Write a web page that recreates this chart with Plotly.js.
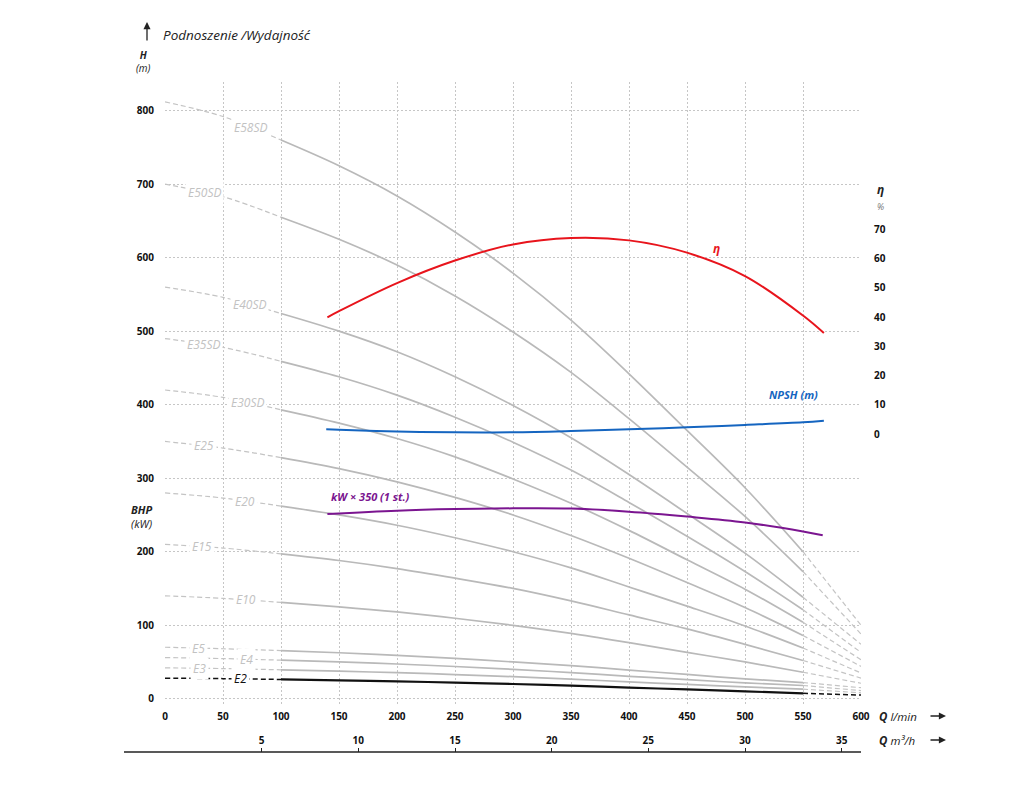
<!DOCTYPE html>
<html>
<head>
<meta charset="utf-8">
<script src="https://cdn.plot.ly/plotly-3.0.1.min.js"></script>
<style>
  html, body { margin: 0; padding: 0; background: #fff; }
  #chart { width: 1024px; height: 786px; }
</style>
</head>
<body>
<div id="chart"></div>
<script>
// flow points, l/min
var flowLmin = [0, 50, 100, 150, 200, 250, 300, 350, 400, 450, 500, 550, 600];

// head curves per model (m), read at the flow points above
var headE58SD = [812, 792, 760, 725, 684, 635, 579, 515, 442, 365, 287, 200, 100];
var headE50SD = [700, 683, 655, 625, 590, 548, 499, 444, 381, 315, 248, 173, 88];
var headE40SD = [560, 546, 524, 500, 472, 438, 399, 355, 305, 252, 198, 138, 74];
var headE35SD = [490, 478, 459, 438, 413, 383, 349, 311, 267, 221, 173, 121, 63];
var headE30SD = [420, 410, 393, 375, 354, 329, 299, 266, 229, 189, 149, 104, 53];
var headE25 = [350, 341, 328, 313, 295, 274, 250, 222, 191, 158, 124, 86, 44];
var headE20 = [280, 273, 262, 250, 236, 219, 200, 178, 152, 126, 99, 69, 35];
var headE15 = [210, 205, 197, 188, 177, 164, 150, 133, 114, 95, 74, 52, 28];
var headE10 = [140, 136.5, 131, 125, 118, 109.5, 99.8, 88.8, 76.2, 63, 50, 36, 21];
var headE5 = [70, 68, 65.5, 62.5, 59, 55, 50, 45, 39, 33, 27, 22, 15];
var headE4 = [56, 54.6, 52.4, 50, 47.2, 43.8, 40, 35.5, 30.5, 26, 21.5, 18, 11];
var headE3 = [42, 41, 39.3, 37.5, 35.4, 32.9, 30, 26.6, 22.9, 19.5, 16, 13, 8];
var headE2 = [28, 27.3, 26.2, 25, 23.6, 21.9, 20, 17.8, 15.2, 12.6, 10, 7.3, 5];

var modelNames = ['E58SD', 'E50SD', 'E40SD', 'E35SD', 'E30SD', 'E25', 'E20', 'E15', 'E10', 'E5', 'E4', 'E3', 'E2'];
var modelHeads = [headE58SD, headE50SD, headE40SD, headE35SD, headE30SD, headE25, headE20,
                  headE15, headE10, headE5, headE4, headE3, headE2];

// efficiency (%)
var etaFlow = [140, 150, 200, 250, 300, 350, 400, 450, 500, 550, 568];
var etaVal = [39.9, 42, 51.6, 59.3, 64.8, 67.0, 66.2, 62.0, 54.0, 40.5, 34.5];

// NPSH (m)
var npshFlow = [139, 150, 200, 250, 300, 350, 400, 450, 500, 550, 568];
var npshVal = [1.6, 1.45, 0.85, 0.6, 0.58, 1.0, 1.6, 2.3, 3.1, 4.0, 4.55];

// power per stage (kW), drawn x350
var kwFlow = [140, 200, 250, 300, 350, 400, 450, 500, 550, 567];
var kwVal = [0.718, 0.731, 0.737, 0.74, 0.739, 0.727, 0.708, 0.685, 0.65, 0.635];

var qTicks = [0, 50, 100, 150, 200, 250, 300, 350, 400, 450, 500, 550, 600];
var hTicks = [0, 100, 200, 300, 400, 500, 600, 700, 800];
var etaTicks = [0, 10, 20, 30, 40, 50, 60, 70];
var m3hTicks = [5, 10, 15, 20, 25, 30, 35];

// where the model label sits along the dashed part (l/min)
var labelAt = [74, 34, 73, 33, 71, 34, 69, 32, 70, 29, 70, 30, 65];

var FONT = 'Open Sans, sans-serif';
var GREY = '#b9b9b9';
var DASH = '5px,3px';

function interp(xs, ys, x) {
    for (var i = 1; i < xs.length; i++) {
        if (x <= xs[i]) {
            var t = (x - xs[i - 1]) / (xs[i] - xs[i - 1]);
            return ys[i - 1] + t * (ys[i] - ys[i - 1]);
        }
    }
    return ys[ys.length - 1];
}

var traces = [];
var annotations = [];

for (var m = 0; m < modelNames.length; m++) {
    var h = modelHeads[m];
    var isE2 = modelNames[m] === 'E2';
    var col = isE2 ? '#111' : GREY;
    // start dashed 0-100, solid 100-550, dashed 550-600
    traces.push({ x: flowLmin.slice(0, 3), y: h.slice(0, 3), mode: 'lines',
        line: { color: isE2 ? '#111' : '#c4c4c4', width: isE2 ? 1.5 : 1.2, dash: DASH, shape: 'spline' } });
    traces.push({ x: flowLmin.slice(2, 12), y: h.slice(2, 12), mode: 'lines',
        line: { color: col, width: isE2 ? 2.2 : 1.7, shape: 'spline' } });
    traces.push({ x: flowLmin.slice(11), y: h.slice(11), mode: 'lines',
        line: { color: isE2 ? '#111' : '#c4c4c4', width: isE2 ? 1.5 : 1.2, dash: DASH } });

    annotations.push({
        x: labelAt[m], y: interp(flowLmin, h, labelAt[m]), xref: 'x', yref: 'y',
        text: modelNames[m], showarrow: false, bgcolor: '#fff', borderpad: 2,
        font: { family: FONT, size: 12, style: 'italic', color: isE2 ? '#111' : '#c2c2c2' }
    });
}

traces.push({ x: etaFlow, y: etaVal, yaxis: 'y2', mode: 'lines',
    line: { color: '#e8141c', width: 2, shape: 'spline' } });
traces.push({ x: npshFlow, y: npshVal, yaxis: 'y2', mode: 'lines',
    line: { color: '#1565c0', width: 2, shape: 'spline' } });
traces.push({ x: kwFlow, y: kwVal, yaxis: 'y3', mode: 'lines',
    line: { color: '#7b1590', width: 2, shape: 'spline' } });
// invisible trace so the m3/h axis is drawn
traces.push({ x: [0, 36], y: [0, 0], xaxis: 'x2', mode: 'lines', line: { width: 0 }, hoverinfo: 'skip' });

// pixel helpers for the paper
function px(xp) { return (xp - 165) / 696; }
function py(yp) { return (752 - yp) / 670; }

function txt(x, y, text, size, opts) {
    var o = {
        x: px(x), y: py(y), xref: 'paper', yref: 'paper', text: text, showarrow: false,
        xanchor: 'center', yanchor: 'middle',
        font: { family: FONT, size: size, color: '#222', style: 'italic' }
    };
    for (var k in opts) o[k] = opts[k];
    return o;
}

annotations.push(txt(161, 35, 'Podnoszenie /Wydajność', 13.5, { xanchor: 'left' }));
annotations.push(txt(143, 62, '<b>H</b><br>(m)', 10));
annotations.push(txt(142, 516, '<b>BHP</b><br>(kW)', 11));
annotations.push(txt(880, 197, '<b>η</b><br><span style="font-size:9px;color:#777">%</span>', 12));
annotations.push(txt(877, 716, '<b>Q</b> l/min', 11.5, { xanchor: 'left' }));
annotations.push(txt(877, 740, '<b>Q</b> m³/h', 11.5, { xanchor: 'left' }));
annotations.push(txt(716, 249, '<b>η</b>', 12, { font: { family: FONT, size: 12, style: 'italic', color: '#e8141c' } }));
annotations.push(txt(793, 394, '<b>NPSH (m)</b>', 11, { font: { family: FONT, size: 11, style: 'italic', color: '#1565c0' } }));
annotations.push(txt(370, 496, '<b>kW × 350 (1 st.)</b>', 11, { font: { family: FONT, size: 11, style: 'italic', color: '#7b1590' } }));

// arrows
function arrow(x, y, ax, ay) {
    return { x: px(x), y: py(y), xref: 'paper', yref: 'paper', text: '', showarrow: true,
        ax: ax, ay: ay, arrowhead: 2, arrowsize: 1.1, arrowwidth: 1.3, arrowcolor: '#222' };
}
annotations.push(arrow(147, 22, 0, 20));
annotations.push(arrow(946, 716, -17, 0));
annotations.push(arrow(946, 740, -17, 0));

var tickFont = { family: FONT, size: 10, color: '#111', weight: 'bold' };

var yMin = -8.6, yMax = 839;

var layout = {
    width: 1024, height: 786,
    margin: { l: 165, r: 163, t: 82, b: 34 },
    paper_bgcolor: '#fff', plot_bgcolor: '#fff',
    showlegend: false, hovermode: false,
    xaxis: {
        range: [0, 600], tickvals: qTicks, ticks: '', showline: false, zeroline: false,
        showgrid: true, gridcolor: '#c6c6c6', griddash: '2px,2px', gridwidth: 1,
        tickfont: tickFont, ticklabelstandoff: 4
    },
    xaxis2: {
        range: [0, 36], overlaying: 'x', side: 'top', anchor: 'free', position: 0,
        tickvals: m3hTicks, ticks: 'outside', ticklen: 4, tickcolor: '#222', tickwidth: 1,
        showgrid: false, zeroline: false, showline: false, tickfont: tickFont
    },
    yaxis: {
        range: [yMin, yMax], domain: [0.0701, 1], tickvals: hTicks, ticks: '',
        showline: false, zeroline: false, showgrid: true, gridcolor: '#c6c6c6',
        griddash: '2px,2px', gridwidth: 1, tickfont: tickFont, ticklabelstandoff: 10
    },
    yaxis2: {
        overlaying: 'y', side: 'right', range: [-92.65, 120.34], tickvals: etaTicks,
        ticks: '', showgrid: false, zeroline: false, showline: false,
        tickfont: tickFont, ticklabelstandoff: 12
    },
    yaxis3: {
        overlaying: 'y', range: [yMin / 350, yMax / 350], visible: false
    },
    shapes: [{
        type: 'line', xref: 'paper', yref: 'paper', x0: px(124), x1: 1, y0: 0, y1: 0,
        line: { color: '#222', width: 1.3 }
    }],
    annotations: annotations
};

Plotly.newPlot('chart', traces, layout, { displayModeBar: false, staticPlot: true });
</script>
</body>
</html>
